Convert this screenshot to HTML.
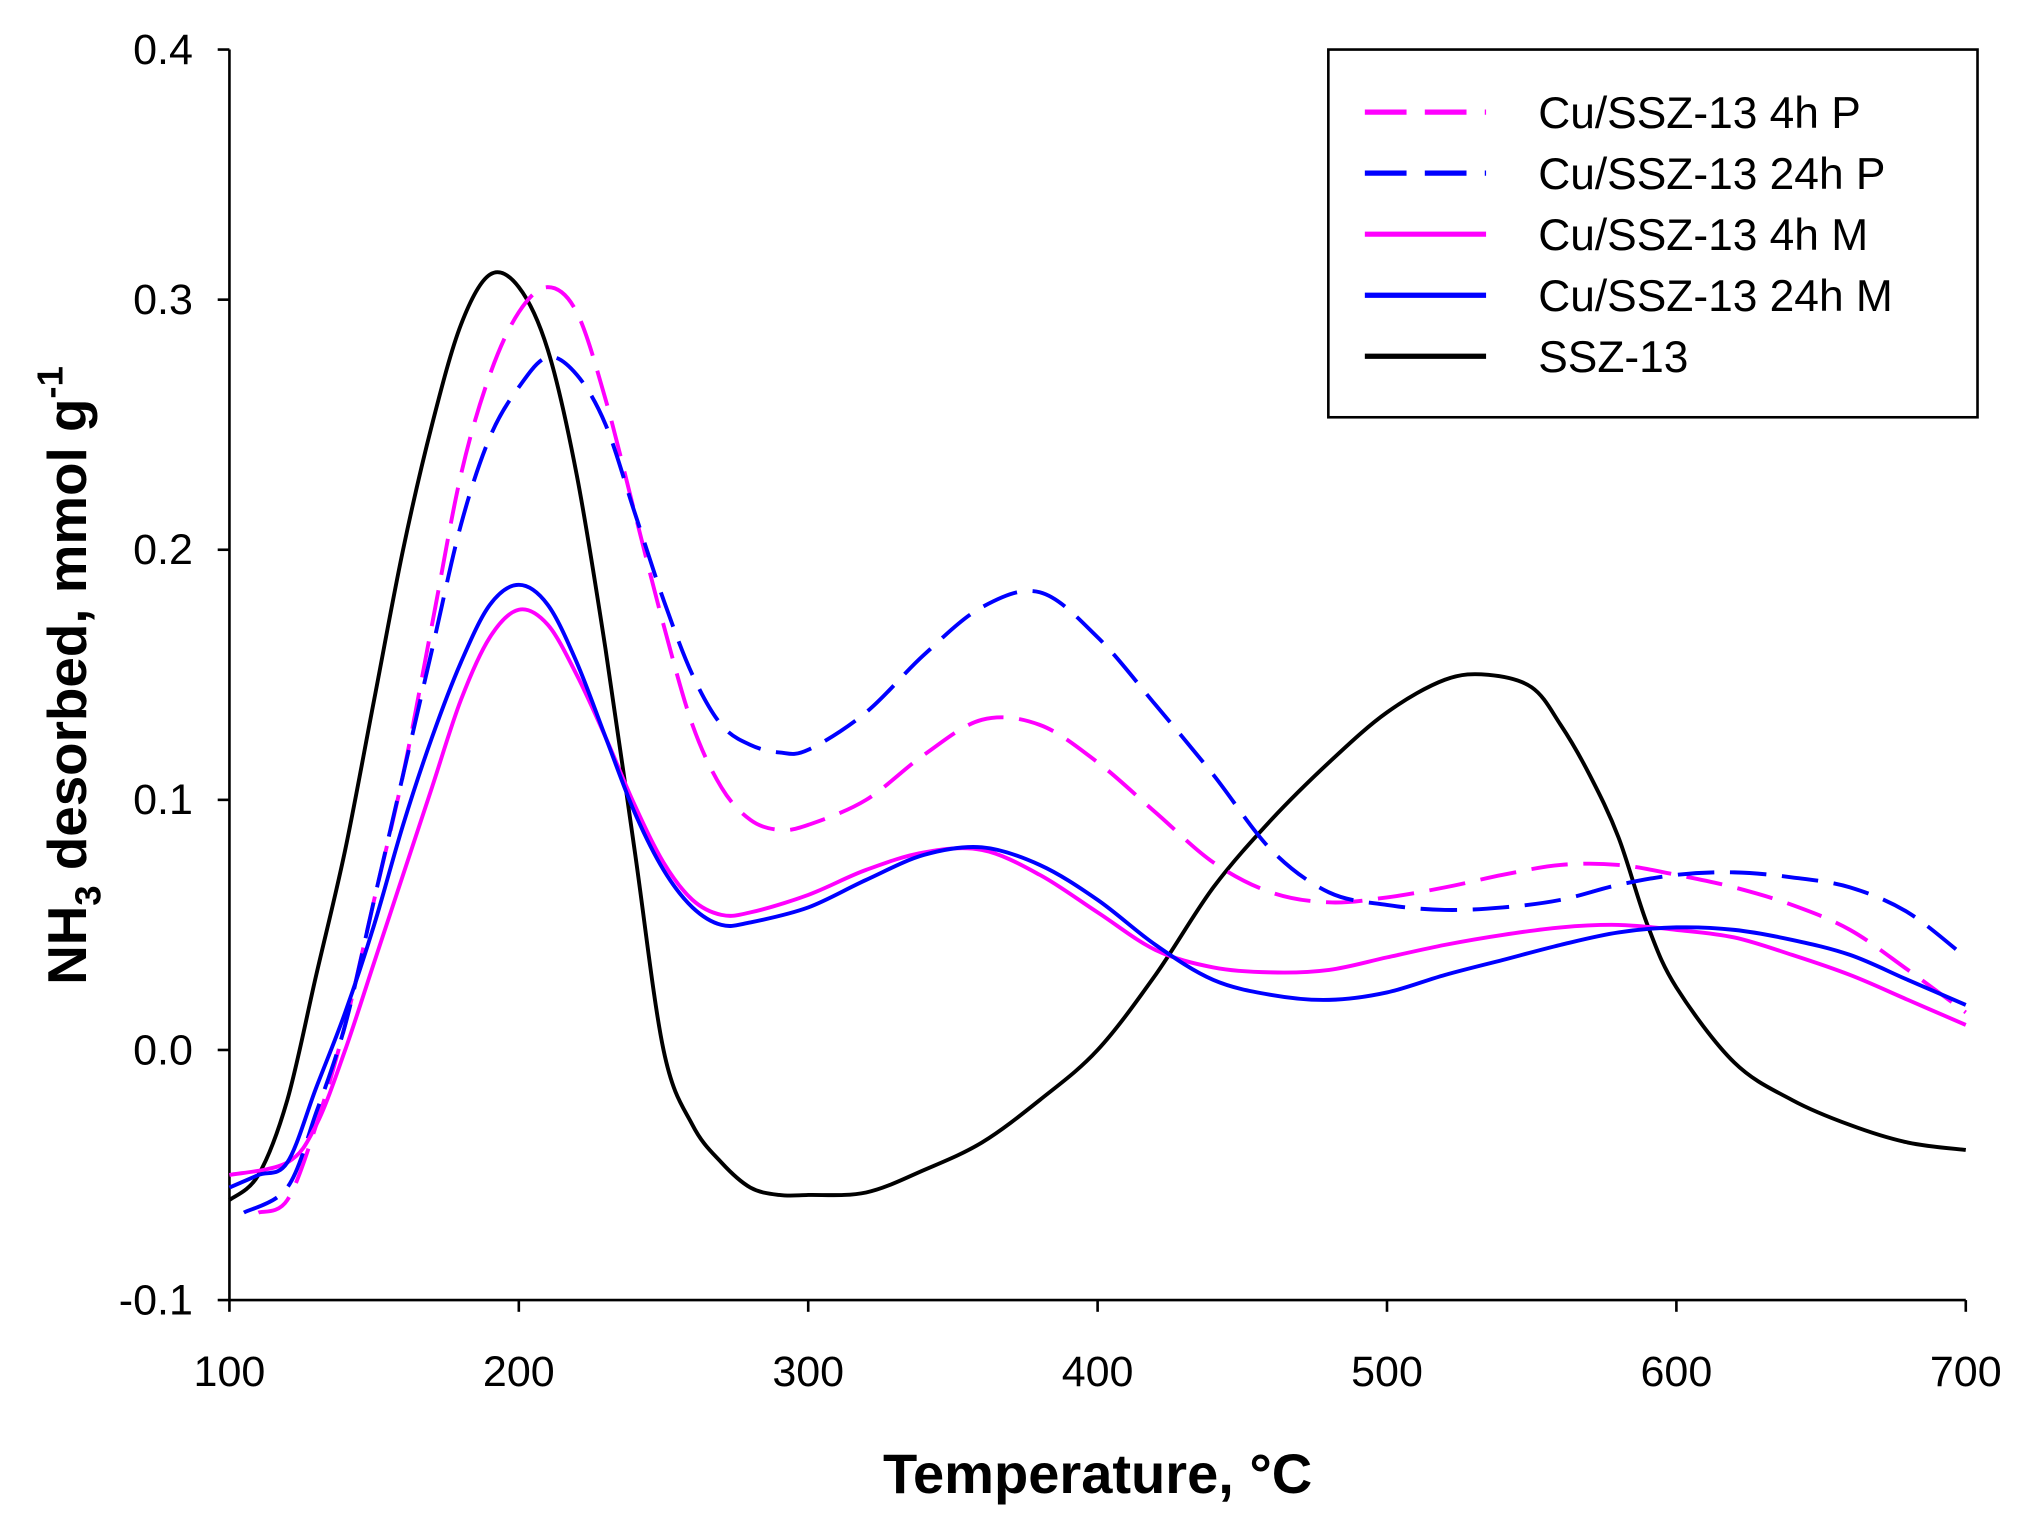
<!DOCTYPE html>
<html><head><meta charset="utf-8"><style>
html,body{margin:0;padding:0;background:#fff;}
svg{display:block;}
text{font-family:"Liberation Sans",Arial,sans-serif;}
</style></head><body>
<svg id="chart" width="2044" height="1540" viewBox="0 0 1568 1181" preserveAspectRatio="none" xmlns="http://www.w3.org/2000/svg">
<g id="axes"></g>
<g id="series"></g>
<g id="legend">
<rect x="1019" y="38" width="498" height="282" fill="#fff" stroke="#000" stroke-width="2"/>
</g>
<text x="842" y="1145" text-anchor="middle" font-size="43" font-weight="bold">Temperature, °C</text>
<text transform="translate(66,518) rotate(-90)" text-anchor="middle" font-size="42" font-weight="bold">NH<tspan font-size="28" dy="11">3</tspan><tspan dy="-11"> desorbed, mmol g</tspan><tspan font-size="28" dy="-18">-1</tspan></text>
</svg>
<script>
const xTicks=[100,200,300,400,500,600,700];
const yTicks=[-0.1,0.0,0.1,0.2,0.3,0.4];
const yTickLabels=["-0.1","0.0","0.1","0.2","0.3","0.4"];
const seriesNames=["Cu/SSZ-13 4h P","Cu/SSZ-13 24h P","Cu/SSZ-13 4h M","Cu/SSZ-13 24h M","SSZ-13"];
const tSSZ=[100,110,120,130,140,150,160,170,180,190,200,210,220,230,240,250,260,270,280,290,300,320,340,360,380,400,420,440,460,480,500,520,535,550,560,570,580,590,600,620,640,660,680,700];
const vSSZ=[-0.06,-0.05,-0.02,0.03,0.08,0.14,0.2,0.25,0.29,0.31,0.305,0.28,0.23,0.16,0.08,0.0,-0.03,-0.045,-0.055,-0.058,-0.058,-0.057,-0.048,-0.037,-0.02,0.0,0.03,0.065,0.092,0.115,0.135,0.148,0.15,0.145,0.13,0.11,0.085,0.05,0.025,-0.005,-0.02,-0.03,-0.037,-0.04];
const t4P=[110,120,130,140,150,160,170,180,190,200,210,220,230,240,250,260,270,280,290,300,320,340,360,380,400,420,440,460,480,500,520,540,560,580,600,620,640,660,680,700];
const v4P=[-0.065,-0.06,-0.03,0.01,0.06,0.11,0.17,0.23,0.27,0.295,0.305,0.295,0.26,0.215,0.17,0.13,0.105,0.092,0.088,0.09,0.1,0.118,0.132,0.13,0.115,0.095,0.075,0.063,0.059,0.061,0.065,0.07,0.074,0.074,0.07,0.065,0.058,0.048,0.032,0.015];
const t24P=[105,120,130,140,150,160,170,180,190,200,210,220,230,240,250,260,270,280,290,300,320,340,360,380,400,420,440,460,480,500,520,540,560,580,600,620,640,660,680,700];
const v24P=[-0.065,-0.055,-0.025,0.01,0.06,0.11,0.16,0.21,0.245,0.265,0.277,0.27,0.25,0.215,0.18,0.15,0.13,0.122,0.119,0.12,0.135,0.158,0.177,0.183,0.165,0.138,0.11,0.08,0.063,0.058,0.056,0.057,0.06,0.066,0.07,0.071,0.069,0.065,0.055,0.037];
const t4M=[100,120,130,140,150,160,170,180,190,200,210,220,230,240,250,260,270,280,300,320,340,360,380,400,420,440,460,480,500,520,540,560,580,600,620,640,660,680,700];
const v4M=[-0.05,-0.045,-0.03,0.0,0.035,0.07,0.105,0.14,0.165,0.176,0.17,0.15,0.125,0.098,0.075,0.06,0.054,0.055,0.062,0.072,0.079,0.08,0.07,0.055,0.04,0.033,0.031,0.032,0.037,0.042,0.046,0.049,0.05,0.048,0.045,0.038,0.03,0.02,0.01];
const t24M=[100,110,120,130,140,150,160,170,180,190,200,210,220,230,240,250,260,270,280,300,320,340,360,380,400,420,440,460,480,500,520,540,560,580,600,620,640,660,680,700];
const v24M=[-0.055,-0.05,-0.045,-0.015,0.015,0.05,0.09,0.125,0.155,0.178,0.186,0.178,0.155,0.125,0.095,0.072,0.057,0.05,0.051,0.057,0.068,0.078,0.081,0.074,0.06,0.042,0.028,0.022,0.02,0.023,0.03,0.036,0.042,0.047,0.049,0.048,0.044,0.038,0.028,0.018];

const NS="http://www.w3.org/2000/svg";
const X0=176,X1=1508,Y0=997,Y1=38;
function xs(t){return X0+(t-100)/600*(X1-X0);}
function ys(v){return Y0-(v+0.1)/0.5*(Y0-Y1);}
function mk(tag,attrs,parent){const e=document.createElementNS(NS,tag);for(const k in attrs)e.setAttribute(k,attrs[k]);parent.appendChild(e);return e;}
function smoothPath(P){
  let d='M'+P[0][0].toFixed(1)+','+P[0][1].toFixed(1);
  for(let i=0;i<P.length-1;i++){
    const p0=P[i-1]||P[i],p1=P[i],p2=P[i+1],p3=P[i+2]||p2;
    const c1x=p1[0]+(p2[0]-p0[0])/6,c1y=p1[1]+(p2[1]-p0[1])/6;
    const c2x=p2[0]-(p3[0]-p1[0])/6,c2y=p2[1]-(p3[1]-p1[1])/6;
    d+=`C${c1x.toFixed(1)},${c1y.toFixed(1)} ${c2x.toFixed(1)},${c2y.toFixed(1)} ${p2[0].toFixed(1)},${p2[1].toFixed(1)}`;
  }
  return d;
}
const axes=document.getElementById('axes');
const frame=mk('path',{d:`M${X0},${Y1}V${Y0}H${X1}`,fill:'none',stroke:'#000','stroke-width':2},axes);


xTicks.forEach(t=>{
  const l=mk('line',{x1:xs(t),x2:xs(t),y1:Y0,y2:Y0+9,stroke:'#000','stroke-width':2},axes);
  
  
  const tx=mk('text',{x:xs(t),y:Y0+66,'text-anchor':'middle','font-size':33},axes);
  tx.textContent=String(t);
  
  
});
yTicks.forEach((v,i)=>{
  const l=mk('line',{x1:X0-9,x2:X0,y1:ys(v),y2:ys(v),stroke:'#000','stroke-width':2},axes);
  
  
  const tx=mk('text',{x:X0-28,y:ys(v)+11,'text-anchor':'end','font-size':33},axes);
  tx.textContent=yTickLabels[i];
  
  
});
const specs=[
 {t:t4P,v:v4P,c:'#ff00ff',d:'28 12',n:'series-4h-p'},
 {t:t24P,v:v24P,c:'#0000ff',d:'28 12',n:'series-24h-p'},
 {t:t4M,v:v4M,c:'#ff00ff',d:'',n:'series-4h-m'},
 {t:t24M,v:v24M,c:'#0000ff',d:'',n:'series-24h-m'},
 {t:tSSZ,v:vSSZ,c:'#000000',d:'',n:'series-ssz-13'}
];
const sg=document.getElementById('series');
const drawOrder=[4,0,1,2,3];
drawOrder.forEach(i=>{
  const s=specs[i];
  const pts=s.t.map((t,j)=>[xs(t),ys(s.v[j])]);
  const p=mk('path',{d:smoothPath(pts),fill:'none',stroke:s.c,'stroke-width':3,'stroke-linejoin':'round'},sg);
  if(s.d)p.setAttribute('stroke-dasharray',s.d);
  
  
});
const lg=document.getElementById('legend');
specs.forEach((s,i)=>{
  const y=86+i*46.8;
  const l=mk('line',{x1:1047,x2:1140,y1:y,y2:y,stroke:s.c,'stroke-width':4},lg);
  if(s.d)l.setAttribute('stroke-dasharray','32 14');
  
  
  const tx=mk('text',{x:1180,y:y+12,'font-size':34},lg);
  tx.textContent=seriesNames[i];
  
  
});
</script>
</body></html>
